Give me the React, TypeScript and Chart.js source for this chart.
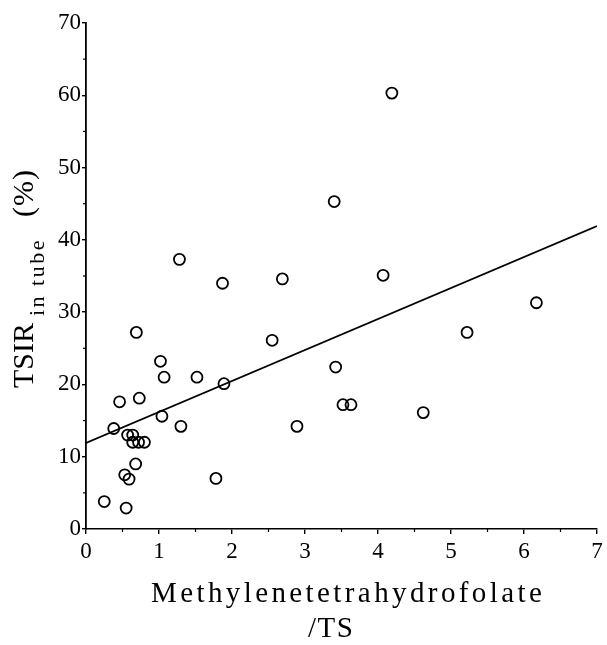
import React, { useEffect, useRef } from "react";
import { Chart, registerables } from "chart.js";

Chart.register(...registerables);

const ratioX = [1.87, 2.69, 0.69, 2.55, 1.02, 1.07, 1.52, 1.89, 0.46, 0.73, 1.04, 0.38, 1.30, 2.89, 0.57, 0.64, 0.64, 0.72, 0.80, 0.68, 0.53, 0.59, 1.78, 0.25, 0.55, 1.28, 4.19, 3.40, 4.07, 6.17, 5.22, 3.42, 3.52, 3.63, 4.62];
const tsirY = [34.0, 34.6, 27.2, 26.1, 23.2, 21.0, 21.0, 20.1, 17.6, 18.1, 15.6, 13.9, 14.2, 14.2, 13.0, 13.0, 12.0, 12.0, 12.0, 9.0, 7.5, 6.9, 7.0, 3.8, 2.9, 37.3, 60.3, 45.3, 35.1, 31.3, 27.2, 22.4, 17.2, 17.2, 16.1];
const fitX = [0, 7];
const fitY = [11.9, 41.9];
const xTicks = [0, 1, 2, 3, 4, 5, 6, 7];
const yTicks = [0, 10, 20, 30, 40, 50, 60, 70];
const xMinor = [0.5, 1.5, 2.5, 3.5, 4.5, 5.5, 6.5];
const yMinor = [5, 15, 25, 35, 45, 55, 65];

const SERIF = "'Liberation Serif', 'DejaVu Serif', serif";

const decorPlugin = {
  id: "decor",
  afterDraw(chart: any) {
    const ctx = chart.ctx as CanvasRenderingContext2D;
    const xs = chart.scales.x;
    const ys = chart.scales.y;
    const area = chart.chartArea;
    ctx.save();
    ctx.strokeStyle = "#000";
    ctx.lineWidth = 1.2;
    xMinor.forEach((v) => {
      const px = xs.getPixelForValue(v);
      ctx.beginPath();
      ctx.moveTo(px, area.bottom);
      ctx.lineTo(px, area.bottom + 3);
      ctx.stroke();
    });
    yMinor.forEach((v) => {
      const py = ys.getPixelForValue(v);
      ctx.beginPath();
      ctx.moveTo(area.left, py);
      ctx.lineTo(area.left - 3, py);
      ctx.stroke();
    });
    ctx.fillStyle = "#000";
    ctx.textBaseline = "alphabetic";
    ctx.textAlign = "left";
    // x title
    (ctx as any).letterSpacing = "3.4px";
    ctx.font = `29px ${SERIF}`;
    ctx.fillText("Methylenetetrahydrofolate", 151, 602);
    (ctx as any).letterSpacing = "1.5px";
    ctx.font = `29px ${SERIF}`;
    ctx.fillText("/TS", 308, 637);
    // y title
    ctx.translate(33, 388);
    ctx.rotate(-Math.PI / 2);
    (ctx as any).letterSpacing = "0px";
    ctx.font = `30px ${SERIF}`;
    ctx.fillText("TSIR", 0, 0);
    (ctx as any).letterSpacing = "2.5px";
    ctx.font = `22px ${SERIF}`;
    ctx.fillText("in tube", 72, 11);
    (ctx as any).letterSpacing = "1px";
    ctx.font = `30px ${SERIF}`;
    ctx.fillText("(%)", 171, 0);
    ctx.restore();
  },
};

export default function App() {
  const ref = useRef<HTMLCanvasElement | null>(null);
  useEffect(() => {
    if (!ref.current) return;
    const chart = new Chart(ref.current, {
      type: "scatter",
      data: {
        datasets: [
          {
            type: "scatter",
            data: ratioX.map((x, i) => ({ x, y: tsirY[i] })),
            pointRadius: 5.5,
            pointBorderWidth: 1.8,
            pointBorderColor: "#000",
            pointBackgroundColor: "rgba(255,255,255,0)",
          },
          {
            type: "line",
            data: fitX.map((x, i) => ({ x, y: fitY[i] })),
            borderColor: "#000",
            borderWidth: 1.8,
            pointRadius: 0,
            showLine: true,
            fill: false,
          },
        ],
      } as any,
      options: {
        animation: false,
        responsive: true,
        maintainAspectRatio: false,
        layout: { padding: { left: 0, right: 10, top: 23, bottom: 0 } },
        plugins: { legend: { display: false }, tooltip: { enabled: false } },
        scales: {
          x: {
            type: "linear",
            min: 0,
            max: 7,
            afterBuildTicks: (s: any) => {
              s.ticks = xTicks.map((v) => ({ value: v }));
            },
            afterFit: (s: any) => {
              s.height = 116;
            },
            ticks: { color: "#000", font: { family: SERIF, size: 23 }, padding: 4, maxRotation: 0 },
            grid: { drawOnChartArea: false, drawTicks: true, tickLength: 5, color: "#000", lineWidth: 1.4 },
            border: { display: true, color: "#000", width: 1.6 },
          },
          y: {
            type: "linear",
            min: 0,
            max: 70,
            afterBuildTicks: (s: any) => {
              s.ticks = yTicks.map((v) => ({ value: v }));
            },
            afterFit: (s: any) => {
              s.width = 86;
            },
            ticks: { color: "#000", font: { family: SERIF, size: 23 }, padding: 1 },
            grid: { drawOnChartArea: false, drawTicks: true, tickLength: 4, color: "#000", lineWidth: 1.4 },
            border: { display: true, color: "#000", width: 1.8 },
          },
        },
      } as any,
      plugins: [decorPlugin],
    });
    return () => chart.destroy();
  }, []);
  return (
    <div style={{ position: "fixed", left: 0, top: 0, width: 607, height: 645, background: "#fff" }}>
      <canvas ref={ref} />
    </div>
  );
}
